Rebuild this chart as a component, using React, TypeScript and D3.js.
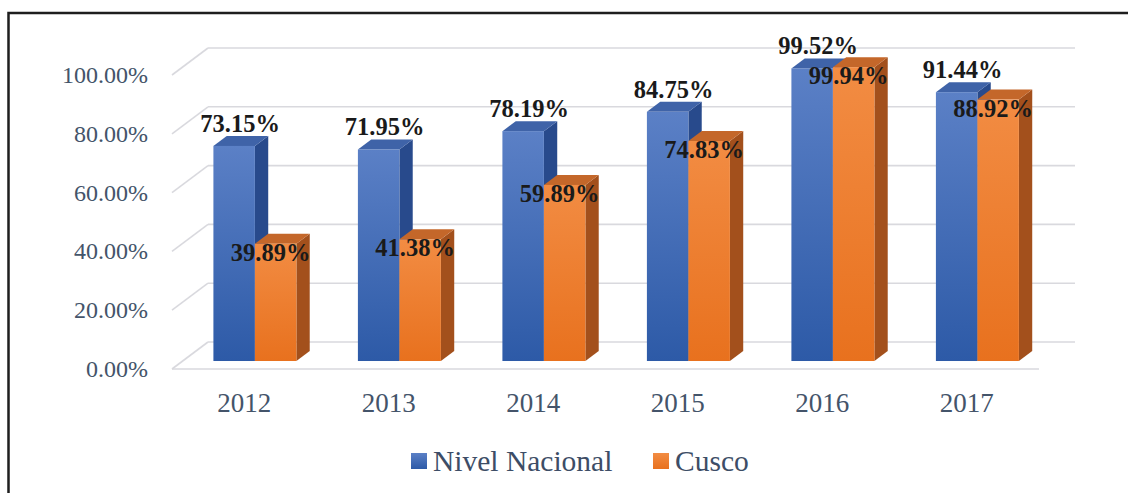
import React from "react";
import * as d3 from "d3";

const categories = ["2012", "2013", "2014", "2015", "2016", "2017"];
const seriesNames = ["Nivel Nacional", "Cusco"];
const nivelNacional = [73.15, 71.95, 78.19, 84.75, 99.52, 91.44];
const cusco = [39.89, 41.38, 59.89, 74.83, 99.94, 88.92];
const yTicks = [0, 20, 40, 60, 80, 100];

const W = 1128;
const H = 493;
const FONT = "Liberation Serif, Times New Roman, Times, DejaVu Serif, serif";
const AXIS_COLOR = "#44546a";

// 3D geometry
const DEPTH_DX = 36;
const DEPTH_DY = -27;
const F_FRONT = 0.296;
const F_BACK = 0.666;

const x = d3.scaleBand<string>().domain(categories).range([172, 1039]).paddingInner(0).paddingOuter(0);
const y = d3.scaleLinear().domain([0, 100]).range([369, 75]);
const groupW = 83;
const inner = d3.scaleBand<string>().domain(seriesNames).range([0, groupW]);

const off = (f: number) => [DEPTH_DX * f, DEPTH_DY * f];

const styles = [
  { grad: "gBlue", side: "#284a8c", top: "#3f63a8" },
  { grad: "gOrange", side: "#a3501c", top: "#c4672a" },
];

function Bar({ x0, w, v, s }: { x0: number; w: number; v: number; s: number }) {
  const [fx, fy] = off(F_FRONT);
  const [bx, by] = off(F_BACK);
  const L = x0 + fx;
  const R = L + w;
  const T = y(v) + fy;
  const B = y(0) + fy;
  const dx = bx - fx;
  const dy = by - fy;
  const st = styles[s];
  return (
    <g>
      <polygon
        points={`${R},${T} ${R + dx},${T + dy} ${R + dx},${B + dy} ${R},${B}`}
        fill={st.side}
      />
      <polygon
        points={`${L},${T} ${L + dx},${T + dy} ${R + dx},${T + dy} ${R},${T}`}
        fill={st.top}
      />
      <rect x={L} y={T} width={w} height={B - T} fill={`url(#${st.grad})`} />
    </g>
  );
}

export default function App() {
  const series = [nivelNacional, cusco];
  const [fx, fy] = off(F_FRONT);
  const bandW = x.bandwidth();
  const gOff = (bandW - groupW) / 2;
  return (
    <svg
      width={W}
      height={H}
      style={{ position: "absolute", left: 0, top: 0, background: "#fff" }}
    >
      <defs>
        <linearGradient id="gBlue" x1="0" y1="0" x2="0" y2="1">
          <stop offset="0" stopColor="#5b80c6" />
          <stop offset="1" stopColor="#2d5aa7" />
        </linearGradient>
        <linearGradient id="gOrange" x1="0" y1="0" x2="0" y2="1">
          <stop offset="0" stopColor="#f28c43" />
          <stop offset="1" stopColor="#e8711e" />
        </linearGradient>
      </defs>
      <rect x={0} y={0} width={W} height={H} fill="#fff" />
      {/* frame */}
      <rect x={8.5} y={13} width={1140} height={500} fill="none" stroke="#1e1e1e" strokeWidth={2.5} />

      {/* gridlines */}
      {yTicks.map((t) => {
        const yf = y(t);
        const x0 = x.range()[0];
        const x1 = x.range()[1];
        return (
          <g key={t} stroke="#d9d9de" strokeWidth={1.6} fill="none">
            <line x1={x0} y1={yf} x2={x0 + DEPTH_DX} y2={yf + DEPTH_DY} />
            <line x1={x0 + DEPTH_DX} y1={yf + DEPTH_DY} x2={x1 + DEPTH_DX} y2={yf + DEPTH_DY} />
            {t === 0 && <line x1={x0} y1={yf} x2={x1} y2={yf} />}
          </g>
        );
      })}

      {/* y labels */}
      {yTicks.map((t) => (
        <text
          key={t}
          x={148}
          y={y(t) + 8}
          textAnchor="end"
          fontFamily={FONT}
          fontSize={24}
          fill={AXIS_COLOR}
        >
          {t.toFixed(2)}%
        </text>
      ))}

      {/* bars */}
      {categories.map((c, i) => (
        <g key={c}>
          {seriesNames.map((sn, s) => (
            <Bar
              key={sn}
              x0={(x(c) as number) + gOff + (inner(sn) as number)}
              w={inner.bandwidth()}
              v={series[s][i]}
              s={s}
            />
          ))}
        </g>
      ))}

      {/* category labels */}
      {categories.map((c) => (
        <text
          key={c}
          x={(x(c) as number) + bandW / 2}
          y={412}
          textAnchor="middle"
          fontFamily={FONT}
          fontSize={27}
          fill={AXIS_COLOR}
        >
          {c}
        </text>
      ))}

      {/* data labels */}
      {categories.map((c, i) =>
        seriesNames.map((sn, s) => {
          const v = series[s][i];
          const L = (x(c) as number) + gOff + (inner(sn) as number) + fx;
          const cx = L + inner.bandwidth() / 2;
          const top = y(v) + fy;
          const lx = s === 0 ? cx + 6 : cx - 5;
          const ly = s === 0 ? top - 14 : top + 17;
          return (
            <text
              key={c + sn}
              x={lx}
              y={ly}
              textAnchor="middle"
              fontFamily={FONT}
              fontWeight="bold"
              fontSize={24.5}
              fill="#1a1a1a"
            >
              {v.toFixed(2)}%
            </text>
          );
        })
      )}

      {/* legend */}
      <g fontFamily={FONT} fontSize={29.5} fill="#3d4d66">
        <rect x={411} y={453} width={16} height={16} fill="url(#gBlue)" />
        <text x={433} y={471}>{seriesNames[0]}</text>
        <rect x={653} y={453} width={16} height={16} fill="url(#gOrange)" />
        <text x={675} y={471}>{seriesNames[1]}</text>
      </g>
    </svg>
  );
}
